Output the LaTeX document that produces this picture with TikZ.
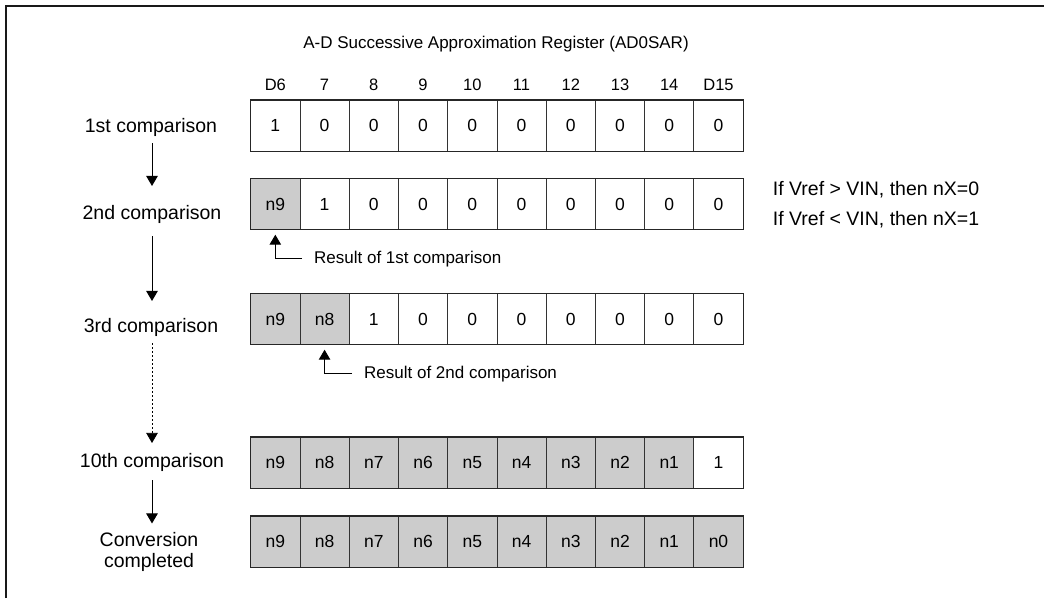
\documentclass[tikz,border=0pt]{standalone}
\usepackage{fontspec}
\setmainfont{Liberation Sans}
\usetikzlibrary{arrows.meta}
\newcommand\regrow[4]{%
  \foreach \t [count=\i] in {#4} {
    \ifnum\i>#3 \def\cf{white}\else\def\cf{cellgray}\fi
    \node[cell, fill=\cf] (#1c\i) at ({250.3+(\i-1)*49.24}, #2) {\t};
  }
  \draw[outer] (#1c1.north west) rectangle (#1c10.south east);
}
\definecolor{cellgray}{gray}{0.8}
\begin{document}
\begin{tikzpicture}[x=1pt,y=-1pt,
  txt/.style={inner sep=0pt, font=\fontsize{17}{20}\selectfont},
  coltxt/.style={inner sep=0pt, font=\fontsize{16.5}{20}\selectfont},
  lab/.style={inner sep=0pt, font=\fontsize{19.5}{20.5}\selectfont, align=center},
  cell/.style={draw=black!80, line width=0.8pt, minimum width=49.24pt, minimum height=50.6pt,
    inner sep=0pt, font=\fontsize{17.5}{20}\selectfont, anchor=north west},
  outer/.style={draw=black!85, line width=1.4pt},
  arr/.style={draw=black, line width=1pt, -{Triangle[width=11.5pt,length=10pt]}},
  dotarr/.style={draw=black, line width=0.7pt, dash pattern=on 2pt off 2pt, -{Triangle[width=11.5pt,length=10pt]}},
  frame/.style={draw=black!90, line width=1.6pt}]
\useasboundingbox (0,0) rectangle (1044,598);
\draw[frame] (6,598) -- (6,6) -- (1044,6);

\node[txt, anchor=base] (title) at (496,48.3) {A-D Successive Approximation Register (AD0SAR)};

\regrow{r1}{100}{0}{1,0,0,0,0,0,0,0,0,0}
\regrow{r2}{178.3}{1}{n9,1,0,0,0,0,0,0,0,0}
\regrow{r3}{293.3}{2}{n9,n8,1,0,0,0,0,0,0,0}
\regrow{r4}{437}{9}{n9,n8,n7,n6,n5,n4,n3,n2,n1,1}
\regrow{r5}{516}{10}{n9,n8,n7,n6,n5,n4,n3,n2,n1,n0}

\foreach \t [count=\i] in {D6,7,8,9,10,11,12,13,14,D15}
  \node[coltxt, anchor=base] (h\i) at ([yshift=10pt]r1c\i.north) {\t};

\node[lab, anchor=base] (l1) at (151,132) {1st comparison};
\node[lab, anchor=base] (l2) at (152,219) {2nd comparison};
\node[lab, anchor=base] (l3) at (151,332) {3rd comparison};
\node[lab, anchor=base] (l4) at (152,467) {10th comparison};
\node[lab, anchor=center] (l5) at (149,552) {Conversion\\completed};

\draw[arr] ([xshift=1pt,yshift=-11pt]l1.base) -- ([yshift=18.7pt]l2.north);
\draw[arr] ([yshift=-17pt]l2.base) -- ([xshift=1pt,yshift=16.7pt]l3.north);
\draw[dotarr] ([xshift=1pt,yshift=-11pt]l3.base) -- ([yshift=9.7pt]l4.north);
\draw[arr] ([yshift=-13pt]l4.base) -- ([xshift=3pt,yshift=9pt]l5.north);

\node[txt, anchor=base west] (res1) at (314,263.3) {Result of 1st comparison};
\node[txt, anchor=base west] (res2) at (364,378.3) {Result of 2nd comparison};
\draw[arr] ([xshift=-12pt]res1.west) -| ([yshift=-5pt]r2c1.south);
\draw[arr] ([xshift=-12pt]res2.west) -| ([yshift=-5pt]r3c2.south);

\node[lab, anchor=base west] (rt1) at (772.7,195) {If Vref > VIN, then nX=0};
\node[lab, anchor=base west] (rt2) at (772.7,225) {If Vref < VIN, then nX=1};
\end{tikzpicture}
\end{document}
